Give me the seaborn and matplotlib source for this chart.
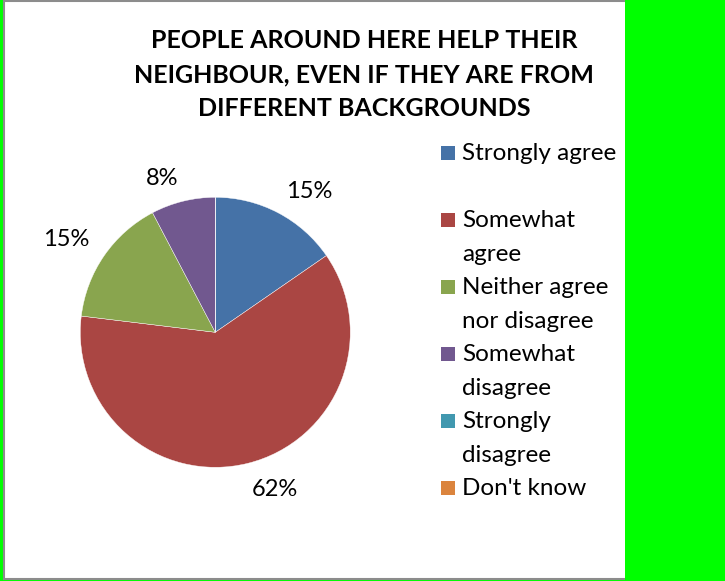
import numpy as np
import matplotlib
matplotlib.use("Agg")
import matplotlib.pyplot as plt
from matplotlib.patches import Rectangle
import seaborn as sns

# survey answers (13 respondents)
categories = ["Strongly agree", "Somewhat agree", "Neither agree nor disagree",
              "Somewhat disagree", "Strongly disagree", "Don't know"]
legend_labels = ["Strongly agree", "Somewhat\nagree", "Neither agree\nnor disagree",
                 "Somewhat\ndisagree", "Strongly\ndisagree", "Don't know"]
responses = [2, 8, 2, 1, 0, 0]
colors = ["#4572A7", "#AA4643", "#89A54E", "#71588F", "#4198AF", "#DB843D"]
title = "PEOPLE AROUND HERE HELP THEIR\nNEIGHBOUR, EVEN IF THEY ARE FROM\nDIFFERENT BACKGROUNDS"

sns.set_theme(style="white")
plt.rcParams["font.family"] = ["Lato", "DejaVu Sans"]

W, H = 725, 581
GREEN = "#00FF00"
fig = plt.figure(figsize=(W / 100, H / 100), dpi=100, facecolor=GREEN)


def fx(px):
    return px / W


def fy(py):
    return 1 - py / H


# chart area with grey border, green strip on the right
fig.add_artist(Rectangle((fx(4), fy(578.5)), fx(700) - fx(4), 577.5 / H,
                         transform=fig.transFigure, facecolor="white",
                         edgecolor="#8C8C8C", linewidth=1.5, zorder=-2))
fig.add_artist(Rectangle((fx(625), 0), 1 - fx(625), 1, transform=fig.transFigure,
                         facecolor=GREEN, edgecolor="none", zorder=-1))

# pie axes (pie() uses limits of +-1.25)
R = 135
cx, cy = 215.3, 332.3
S = 2.5 * R
ax = fig.add_axes([fx(cx - S / 2), fy(cy + S / 2), S / W, S / H])
wedges, texts, autotexts = ax.pie(
    responses, colors=colors, startangle=90, counterclock=False,
    autopct=lambda p: f"{p:.0f}%" if p > 0 else "",
    wedgeprops=dict(edgecolor="white", linewidth=0.3),
    textprops=dict(fontsize=17, color="black"),
)

# outside-end labels: nearest corner of the label sits just outside the slice
for w, t in zip(wedges, autotexts):
    if not t.get_text():
        continue
    ang = np.deg2rad((w.theta1 + w.theta2) / 2)
    x, y = np.cos(ang), np.sin(ang)
    t.set_position((1.13 * x, 1.12 * y))
    t.set_ha("left" if x > 0 else "right")
    t.set_va("baseline" if y > 0 else "top")

fig.text(fx(364), fy(74.5), title, ha="center", va="center", fontsize=18,
         fontweight="bold", linespacing=1.58, color="black")

# legend, one block of two lines per entry
line_h = 33.5
for i, (lab, col) in enumerate(zip(legend_labels, colors)):
    yc = 153 + i * 2 * line_h
    fig.add_artist(Rectangle((fx(441), fy(yc + 7)), 14 / W, 14 / H,
                             transform=fig.transFigure, facecolor=col,
                             edgecolor="none"))
    fig.text(fx(462), fy(yc - 10), lab, ha="left", va="top", fontsize=17.5,
             linespacing=1.78, color="black")

fig.savefig("out.png", dpi=100, facecolor=GREEN)
